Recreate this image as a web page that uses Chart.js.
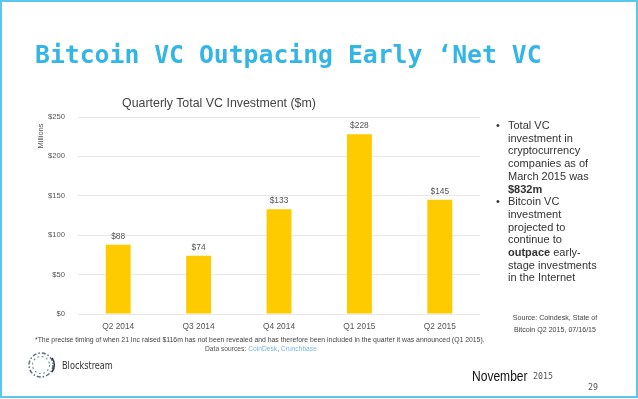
<!DOCTYPE html>
<html>
<head>
<meta charset="utf-8">
<script src="https://cdn.jsdelivr.net/npm/chart.js@4"></script>
<style>
    html, body { margin: 0; padding: 0; background: #fff; }
    #slide {
        position: relative;
        width: 638px;
        height: 399px;
        overflow: hidden;
        font-family: "Liberation Sans", Arial, sans-serif;
    }
    #frame {
        position: absolute;
        left: 0; top: 0;
        width: 634px; height: 394px;
        border: 2px solid #5cc6ee;
    }
    #chart { position: absolute; left: 0; top: 0; }
    .txt { position: absolute; white-space: nowrap; }
    #title {
        left: 35px; top: 42px;
        font: bold 25px/25px "DejaVu Sans Mono", monospace;
        color: #33b5e6;
        transform: scaleX(0.99);
        transform-origin: left;
    }
    #chart-title {
        left: 122px; top: 96px;
        font-size: 12.4px; line-height: 14px;
        color: #444;
    }
    #millions {
        left: 40px; top: 136px;
        font-size: 7.5px; line-height: 9px;
        color: #555;
        transform: translate(-50%, -50%) rotate(-90deg);
    }
    .bullet-text {
        left: 508px;
        font-size: 11px; line-height: 12.7px;
        color: #333;
    }
    .dot {
        left: 496px;
        font-size: 11px; line-height: 12.7px;
        color: #333;
    }
    #source {
        left: 555px; top: 313px;
        font-size: 7.1px; line-height: 11.5px;
        color: #444;
        text-align: center;
        transform: translateX(-50%);
    }
    #footnote {
        left: 35px; top: 336px;
        font-size: 6.85px; line-height: 8px;
        color: #444;
    }
    #datasrc {
        left: 205px; top: 345px;
        font-size: 6.7px; line-height: 8px;
        color: #555;
    }
    #datasrc span { color: #7ab8e0; }
    #brand {
        left: 62px; top: 359px;
        font: 10.5px/12px "DejaVu Sans", sans-serif;
        color: #333;
        transform: scaleX(0.78);
        transform-origin: left;
    }
    #month {
        left: 472px; top: 369px;
        font-size: 14px; line-height: 14px;
        color: #111;
        transform: scaleX(0.86);
        transform-origin: left;
    }
    #year {
        left: 533px; top: 372px;
        font: 8.3px/9px "DejaVu Sans Mono", monospace;
        color: #555;
    }
    #page {
        left: 588px; top: 383px;
        font: 8.3px/9px "DejaVu Sans Mono", monospace;
        color: #555;
    }
    #logo { position: absolute; left: 26px; top: 350px; }
</style>
</head>
<body>
<div id="slide">
    <canvas id="chart" width="638" height="399"></canvas>
    <div id="frame"></div>

    <div class="txt" id="title">Bitcoin VC Outpacing Early ‘Net VC</div>
    <div class="txt" id="chart-title">Quarterly Total VC Investment ($m)</div>
    <div class="txt" id="millions">Millions</div>

    <div class="txt dot" style="top:119px">•</div>
    <div class="txt bullet-text" style="top:119px">Total VC<br>investment in<br>cryptocurrency<br>companies as of<br>March 2015 was<br><b>$832m</b></div>
    <div class="txt dot" style="top:195.2px">•</div>
    <div class="txt bullet-text" style="top:195.2px">Bitcoin VC<br>investment<br>projected to<br>continue to<br><b>outpace</b> early-<br>stage investments<br>in the Internet</div>

    <div class="txt" id="source">Source: Coindesk, State of<br>Bitcoin Q2 2015, 07/16/15</div>

    <div class="txt" id="footnote">*The precise timing of when 21 Inc raised $116m has not been revealed and has therefore been included in the quarter it was announced (Q1 2015).</div>
    <div class="txt" id="datasrc">Data sources: <span>CoinDesk</span>, <span>Crunchbase</span></div>

    <svg id="logo" width="32" height="32" viewBox="0 0 32 32">
        <circle cx="15" cy="15" r="12" fill="none" stroke="#5d6b7a" stroke-width="1.5" stroke-dasharray="4 2 1.5 2"/>
        <circle cx="15" cy="15" r="8.5" fill="none" stroke="#7d8a97" stroke-width="1.1" stroke-dasharray="2 2.5"/>
        <path d="M26 8 A12 12 0 0 1 26 22" fill="none" stroke="#2f3e4e" stroke-width="1.7"/>
    </svg>
    <div class="txt" id="brand">Blockstream</div>

    <div class="txt" id="month">November</div>
    <div class="txt" id="year">2015</div>
    <div class="txt" id="page">29</div>
</div>

<script>
// Quarterly total VC investment, $m
const quarters = ['Q2 2014', 'Q3 2014', 'Q4 2014', 'Q1 2015', 'Q2 2015'];
const investment = [88, 74, 133, 228, 145];
const yTicks = [0, 50, 100, 150, 200, 250];

const barColor = '#fecb00';

// Draw "$xx" above each bar
const valueLabels = {
    id: 'valueLabels',
    afterDatasetsDraw(chart) {
        const ctx = chart.ctx;
        const meta = chart.getDatasetMeta(0);
        ctx.save();
        ctx.font = '8.4px "Liberation Sans", Arial, sans-serif';
        ctx.fillStyle = '#555';
        ctx.textAlign = 'center';
        ctx.textBaseline = 'bottom';
        meta.data.forEach((bar, i) => {
            ctx.fillText('$' + investment[i], bar.x, bar.y - 4);
        });
        ctx.restore();
    }
};

new Chart(document.getElementById('chart'), {
    type: 'bar',
    data: {
        labels: quarters,
        datasets: [{
            data: investment,
            backgroundColor: barColor,
            borderWidth: 0,
            barPercentage: 0.31,
            categoryPercentage: 1
        }]
    },
    options: {
        responsive: false,
        animation: false,
        layout: {
            padding: { left: 38, right: 158, top: 117, bottom: 65 }
        },
        plugins: {
            legend: { display: false },
            tooltip: { enabled: false }
        },
        scales: {
            x: {
                grid: { display: false, drawTicks: false },
                border: { display: false },
                afterFit: (scale) => { scale.height = 20; },
                ticks: {
                    padding: 8,
                    color: '#555',
                    font: { family: '"Liberation Sans", Arial, sans-serif', size: 8.4 }
                }
            },
            y: {
                min: 0,
                max: 250,
                afterFit: (scale) => { scale.width = 40; },
                afterBuildTicks: (scale) => {
                    scale.ticks = yTicks.map(v => ({ value: v }));
                },
                grid: { color: '#e8e8e8', drawTicks: false },
                border: { display: false },
                ticks: {
                    padding: 13,
                    color: '#555',
                    font: { family: '"Liberation Sans", Arial, sans-serif', size: 7.6 },
                    callback: (v) => '$' + v
                }
            }
        }
    },
    plugins: [valueLabels]
});
</script>
</body>
</html>
